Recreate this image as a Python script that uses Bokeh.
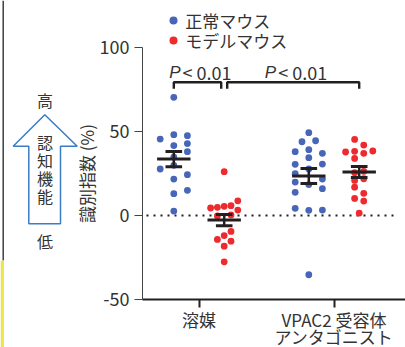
from bokeh.plotting import figure
from bokeh.models import Range1d, FixedTicker, Legend, LegendItem
from bokeh.core.properties import value
from bokeh.embed import file_html
from bokeh.resources import INLINE

# ---------------- data ----------------
groups = ["溶媒", "VPAC2 受容体\nアンタゴニスト"]
series_labels = ["正常マウス", "モデルマウス"]
y_ticks = [-50, 0, 50, 100]
y_label = "識別指数 (%)"

# discrimination index (%) per mouse, with swarm column index of each dot
veh_normal = [70.2, 45.4, 48.0, 47.4, 41.5, 42.7, 37.9, 34.7, 29.8, 27.6, 21.6, 24.2, 12.9, 14.9, 2.6]
veh_normal_col = [0, -2, 0, 2, 0, 2, 2, 0, 0, -2, 0, 2, 0, 2, 0]
veh_model = [26.0, 8.7, 4.4, 4.8, 5.4, 5.8, 3.2, -0.3, 0.3, -9.5, -12.0, -14.3, -15.3, -18.3, -27.6]
veh_model_col = [0, 2, -2, -1, 0, 1, 2, -1, 1, 1, 0, -1, 1, 0, 0]
ant_normal = [49.2, 43.8, 44.4, 37.9, 39.1, 36.9, 34.3, 30.4, 30.5, 24.8, 27.6, 21.6, 19.8, 18.3, 15.9, 13.7, 4.2, 3.0, 3.2, -35.3]
ant_normal_col = [0, -1, 1, -2, 0, 2, 0, -2, 2, -2, 0, 2, -2, 0, 2, -2, -2, 0, 2, 0]
ant_model = [45.2, 41.8, 37.7, 38.1, 36.9, 38.3, 33.9, 25.4, 26.2, 20.8, 21.8, 16.8, 10.1, 13.1, 8.5, 1.4]
ant_model_col = [-0.67, 0.67, -2, -0.67, 0.67, 2, -0.67, -0.67, 0.67, -0.67, 0.67, -0.67, -0.67, 0.67, 0.67, 0]

normal_mean = [33.5, 23.4]
normal_sem = [4.5, 4.5]
model_mean = [-2.8, 25.8]
model_sem = [3.3, 3.3]

# comparisons: ((group, series), (group, series)) and their p text
comparisons = [((0, 0), (0, 1)), ((0, 1), (1, 1))]
p_texts = ["< 0.01", "< 0.01"]

cog_labels = ["高", "認\n知\n機\n能", "低"]

# ---------------- styling / geometry ----------------
CJK = "Noto Sans CJK JP"
TEXT = "#333333"
INK = "#231f20"
BLUE = "#4766b8"
RED = "#ee2a2e"
ARROW = "#3a7cc5"

W, H = 405, 347
PX = 135.0                       # px per category unit
PY = 1.6817                      # px per y unit
ZERO_PX = 214.9                  # pixel row of y = 0
X0 = 1 - 198.5 / PX
X1 = X0 + W / PX
Y1 = ZERO_PX / PY
Y0 = Y1 - H / PY

GROUP_OFF = 25.2 / PX
JIT = 6.8 / PX
MEAN_HW = 16.7 / PX
CAP_HW = 8.3 / PX
GAP = 3.0 / PX

# pixel helpers for decorations (annotation panel, brackets)
def dx(px):
    return X0 + px / PX

def dy(py):
    return Y1 - py / PY

def center(g, s):
    return (g + 1) + (GROUP_OFF if s == 1 else -GROUP_OFF)

p = figure(width=W, height=H, x_range=Range1d(X0, X1), y_range=Range1d(Y0, Y1),
           output_backend="svg", toolbar_location=None, min_border=0)
p.outline_line_color = None
p.grid.visible = False

AXIS_X = dx(142)

# y axis
ya = p.yaxis[0]
ya.fixed_location = AXIS_X
ya.ticker = FixedTicker(ticks=y_ticks)
ya.major_label_overrides = {t: str(t) for t in y_ticks}
ya.bounds = (min(y_ticks), max(y_ticks))
ya.axis_label = y_label
ya.axis_label_text_font = CJK
ya.axis_label_text_font_size = "17px"
ya.axis_label_text_font_style = "normal"
ya.axis_label_text_color = TEXT
ya.axis_label_standoff = -2
ya.major_label_text_font = CJK
ya.major_label_text_font_size = "18px"
ya.major_label_text_color = TEXT
ya.major_label_standoff = 5
ya.major_tick_out = 8
ya.major_tick_in = 0
ya.minor_tick_out = 0
ya.minor_tick_in = 0
ya.axis_line_color = "#444444"
ya.major_tick_line_color = "#444444"
ya.axis_line_width = 1

# x axis
xticks = [i + 1 for i in range(len(groups))]
xa = p.xaxis[0]
xa.fixed_location = min(y_ticks)
xa.bounds = (AXIS_X, X1)
xa.ticker = FixedTicker(ticks=xticks)
xa.major_label_overrides = {t: g for t, g in zip(xticks, groups)}
xa.major_label_text_font = CJK
xa.major_label_text_font_size = "17px"
xa.major_label_text_color = TEXT
xa.major_label_text_line_height = 0.68
xa.major_label_standoff = 0
xa.major_tick_out = 8
xa.major_tick_in = 0
xa.minor_tick_out = 0
xa.minor_tick_in = 0
xa.axis_line_color = INK
xa.axis_line_width = 2
xa.major_tick_line_color = INK
xa.major_tick_line_width = 2

# zero reference line
p.line([dx(146), dx(396)], [0, 0], line_color=INK, line_width=2, line_dash="2 5")

# dots
def xs_for(g, s, cols):
    c = center(g, s)
    return [c + k * JIT for k in cols]

nx = xs_for(0, 0, veh_normal_col) + xs_for(1, 0, ant_normal_col)
ny = veh_normal + ant_normal
mx = xs_for(0, 1, veh_model_col) + xs_for(1, 1, ant_model_col)
my = veh_model + ant_model
rn = p.scatter(nx, ny, size=6.8, fill_color=BLUE, line_color=None)
rm = p.scatter(mx, my, size=6.8, fill_color=RED, line_color=None)

# mean +/- SEM
for s, (means, sems) in enumerate([(normal_mean, normal_sem), (model_mean, model_sem)]):
    cs = [center(g, s) for g in range(len(groups))]
    lo = [m - e for m, e in zip(means, sems)]
    hi = [m + e for m, e in zip(means, sems)]
    p.segment(x0=cs, x1=cs, y0=lo, y1=hi, line_color=INK, line_width=2.5)
    p.segment(x0=[c - MEAN_HW for c in cs], x1=[c + MEAN_HW for c in cs], y0=means, y1=means,
              line_color=INK, line_width=3)
    p.segment(x0=[c - CAP_HW for c in cs], x1=[c + CAP_HW for c in cs], y0=hi, y1=hi,
              line_color=INK, line_width=3)
    p.segment(x0=[c - CAP_HW for c in cs], x1=[c + CAP_HW for c in cs], y0=lo, y1=lo,
              line_color=INK, line_width=3)

# significance brackets
B_TOP, B_LEG = dy(81.7), dy(88.3)
bxs, bys, tx = [], [], []
for i, ((g0, s0), (g1, s1)) in enumerate(comparisons):
    a = center(g0, s0)
    b = center(g1, s1)
    if i == 0:
        b -= GAP
    else:
        a += GAP
    bxs.append([a, a, b, b])
    bys.append([B_LEG, B_TOP, B_TOP, B_LEG])
    tx.append((a + b) / 2)
p.multi_line(bxs, bys, line_color=INK, line_width=2.4)
P_Y = dy(71.5)
p.text(x=tx, y=[P_Y] * len(tx), text=["P"] * len(tx), text_font=value("Liberation Sans"),
       text_font_size="17px", text_font_style="italic", text_color=TEXT,
       text_align="right", text_baseline="middle", x_offset=-17)
p.text(x=tx, y=[P_Y] * len(tx), text=p_texts, text_font=value(CJK),
       text_font_size="18px", text_color=TEXT,
       text_align="left", text_baseline="middle", x_offset=-15)

# legend (one box per series; location gives the bottom-left corner in frame px)
leg_vy = [H - (22.7 + 10), H - (42.7 + 10)]
for r, lab, vy in zip([rn, rm], series_labels, leg_vy):
    lg = Legend(items=[LegendItem(label=lab, renderers=[r])],
                location=(163.3, vy), orientation="vertical",
                background_fill_alpha=0, border_line_alpha=0, padding=0, margin=0,
                spacing=0, glyph_width=20, glyph_height=20, label_standoff=2,
                label_height=20, label_text_font=CJK, label_text_font_size="17px",
                label_text_color=TEXT, label_text_baseline="middle")
    p.add_layout(lg)

# ---------------- left-side "cognitive function" arrow ----------------
p.quad(left=[dx(2)], right=[dx(3.4)], top=[dy(0)], bottom=[dy(260)],
       fill_color="#333333", line_color=None)
p.quad(left=[dx(0)], right=[dx(3.4)], top=[dy(260)], bottom=[dy(347)],
       fill_color="#ebe451", line_color=None)
arrow_px = [44.3, 76.7, 60.0, 60.0, 28.3, 28.3, 12.7]
arrow_py = [114.3, 145.7, 145.7, 223.3, 223.3, 145.7, 145.7]
p.patch([dx(v) for v in arrow_px], [dy(v) for v in arrow_py],
        fill_color="white", line_color=ARROW, line_width=1.5)
p.text(x=[dx(44.5)] * 3, y=[dy(99), dy(168.8), dy(240)], text=cog_labels,
       text_font=value(CJK), text_font_size="16px", text_color=TEXT,
       text_align="center", text_baseline="middle", text_line_height=0.75)

open("out.html", "w").write(file_html(p, INLINE))
